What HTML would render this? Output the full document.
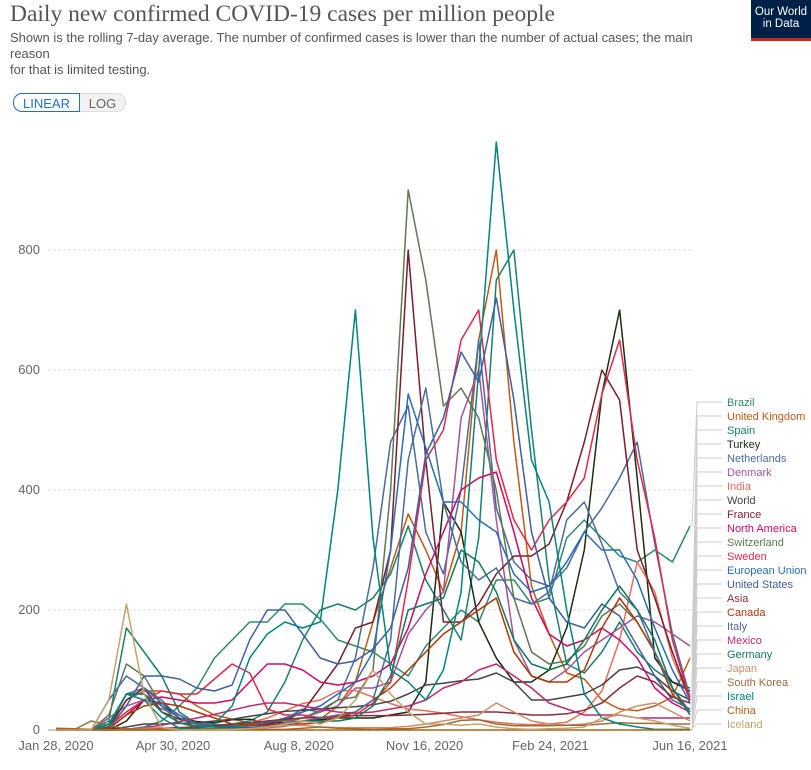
<!DOCTYPE html>
<html><head><meta charset="utf-8">
<style>
body{margin:0;background:#fff;width:811px;height:770px;overflow:hidden;font-family:"Liberation Sans",sans-serif;position:relative}
#title{position:absolute;left:10px;top:1px;font-family:"Liberation Serif",serif;font-size:23.5px;color:#555;white-space:nowrap}
#sub{position:absolute;left:10px;top:30px;font-size:13px;color:#555;line-height:16px;width:760px;white-space:nowrap}
#logo{position:absolute;left:751px;top:0;width:60px;height:41px;background:#002147;border-bottom:3px solid #ce261e;box-sizing:border-box;color:#fff;font-size:11.5px;line-height:12px;text-align:center;padding-top:6px}
.btn{position:absolute;top:93px;height:19px;font-size:13px;line-height:19px;box-sizing:border-box}
</style></head><body>
<div id="title">Daily new confirmed COVID-19 cases per million people</div>
<div id="sub">Shown is the rolling 7-day average. The number of confirmed cases is lower than the number of actual cases; the main<br>reason<br>for that is limited testing.</div>
<div id="logo">Our World<br>in Data</div>
<div class="btn" style="left:13px;width:67px;border:1px solid #1f6fd0;border-radius:9px 0 0 9px;color:#1f6fd0;text-align:center">LINEAR</div>
<div class="btn" style="left:80px;width:46px;border:1px solid #ddd;border-left:none;border-radius:0 9px 9px 0;background:#f2f2f2;color:#666;text-align:center">LOG</div>
<svg id="chart" width="811" height="770" style="position:absolute;left:0;top:0"></svg>
<script>
const yTicks=[0,200,400,600,800];
const xTickLabels=["Jan 28, 2020","Apr 30, 2020","Aug 8, 2020","Nov 16, 2020","Feb 24, 2021","Jun 16, 2021"];
const xTickDays=[0,93,193,293,393,504];
const sampleStep=14;
const seriesNames=["Brazil","United Kingdom","Spain","Turkey","Netherlands","Denmark","India","World","France","North America","Switzerland","Sweden","European Union","United States","Asia","Canada","Italy","Mexico","Germany","Japan","South Korea","Israel","China","Iceland"];
const seriesColors=["#2e8b6a","#c05917","#18806b","#1b2e10","#4c6a9c","#a2559c","#e56e5a","#444","#7a1e2c","#cf0a66","#5f7a4f","#e0294a","#286bbb","#3f5fa0","#883039","#b13507","#4c6a9c","#be2a6e","#0f7a5b","#d28b68","#996d39","#00847e","#b16214","#c4a36d"];
const brazil=[0,0,0,0,1,5,15,40,70,120,150,180,180,210,210,185,150,140,130,110,90,140,170,200,180,250,250,210,220,320,350,320,290,280,300,280,340];
const uk=[0,0,0,1,50,65,65,60,40,25,18,12,9,10,14,18,40,80,180,270,360,300,230,330,650,800,480,240,160,95,85,50,35,32,40,55,120];
const spain=[0,0,0,15,170,130,90,30,10,8,10,15,30,80,150,200,210,200,220,260,340,250,200,150,320,750,800,500,250,110,95,130,180,130,100,80,70];
const turkey=[0,0,0,0,15,50,45,20,14,12,17,18,12,12,15,17,20,20,20,25,30,80,380,330,180,120,80,80,100,170,300,560,700,420,120,80,65];
const netherlands=[0,0,0,10,60,70,50,20,12,10,6,4,6,18,35,30,50,120,270,480,540,330,260,400,650,370,280,250,240,270,330,370,420,480,310,160,55];
const denmark=[0,0,0,20,40,50,35,25,10,8,8,5,6,12,20,30,40,70,70,80,160,200,230,520,600,350,150,90,80,100,130,150,170,190,180,160,140];
const india=[0,0,0,0,0,0,1,2,4,6,8,12,20,32,44,50,65,66,55,44,35,32,28,22,17,13,10,9,10,13,30,65,150,280,230,120,50];
const world=[0,0,0,1,5,10,10,11,12,15,18,23,27,31,33,35,37,39,42,48,60,75,78,82,85,95,80,50,50,55,60,75,100,105,90,65,50];
const france=[0,0,0,5,50,70,30,18,10,6,7,8,10,16,30,70,110,170,180,300,800,450,180,180,210,260,290,290,310,380,480,600,550,300,220,130,50];
const northAmerica=[0,0,0,2,25,50,55,50,45,45,50,80,110,110,100,80,75,80,90,110,170,260,330,400,420,430,330,220,160,140,150,170,150,120,70,45,30];
const switzerland=[0,0,0,25,110,90,40,12,4,2,3,10,15,15,20,33,50,55,100,400,900,750,540,570,520,400,220,130,110,115,140,190,210,180,130,70,30];
const sweden=[0,0,0,6,30,50,65,60,60,85,110,95,35,25,25,20,20,25,45,80,250,450,500,650,700,450,350,300,350,380,420,560,650,450,320,150,50];
const eu=[0,0,0,10,60,60,40,20,10,6,7,8,12,20,30,40,60,80,130,300,560,470,380,380,350,330,260,230,240,280,330,300,300,250,170,100,45];
const us=[0,0,0,2,40,90,90,85,70,65,75,150,200,200,160,120,110,115,135,170,270,460,520,630,580,720,550,330,220,180,170,210,190,140,90,50,35];
const asia=[0,0,0,1,1,2,3,4,5,7,9,12,15,18,20,21,23,24,24,24,25,26,28,30,30,30,28,25,25,27,33,45,70,90,80,55,45];
const canada=[0,0,0,3,25,40,45,40,30,20,10,8,8,10,10,12,20,30,50,70,100,130,160,180,200,220,130,90,80,80,100,170,220,180,130,60,30];
const italy=[0,0,0,50,90,70,45,25,10,5,4,4,4,6,15,20,25,30,50,150,450,570,380,280,250,270,220,210,230,350,380,310,230,200,130,70,30];
const mexico=[0,0,0,0,1,4,8,14,20,26,33,40,45,45,40,35,30,28,30,35,40,50,70,80,100,110,90,70,45,35,25,25,25,20,20,20,20];
const germany=[0,0,0,5,60,60,30,12,7,5,4,4,5,10,15,15,15,20,40,90,200,210,220,300,280,230,150,110,100,110,150,200,240,200,150,70,25];
const japan=[0,0,0,0,1,3,4,1,0,0,1,2,5,7,8,5,4,4,4,4,6,10,15,20,25,45,30,15,10,8,10,15,30,40,45,30,15];
const southKorea=[0,0,15,8,2,1,0,0,1,1,1,1,1,1,3,5,3,2,1,2,2,5,9,16,17,10,7,7,7,8,8,10,12,11,11,10,10];
const israel=[0,0,0,10,60,50,20,3,2,10,40,120,160,180,170,180,400,700,320,100,80,50,100,230,600,980,700,450,380,200,60,20,10,5,1,1,1];
const china=[3,2,1,0,0,0,0,0,0,0,0,0,0,0,0,0,0,0,0,0,0,0,0,0,0,0,0,0,0,0,0,0,0,0,0,0,0];
const iceland=[0,0,0,50,210,60,4,0,0,0,1,2,5,10,15,10,20,50,100,60,30,10,10,8,10,5,2,1,2,3,5,20,25,20,15,8,3];
const seriesValues=[brazil,uk,spain,turkey,netherlands,denmark,india,world,france,northAmerica,switzerland,sweden,eu,us,asia,canada,italy,mexico,germany,japan,southKorea,israel,china,iceland];

const NS="http://www.w3.org/2000/svg";
const svg=document.getElementById('chart');
const X0=56,X1=690,Y0=730;
const xScale=d=>X0+d*(X1-X0)/504;
const yScale=v=>Y0-v*0.6;
function mk(t,a){const e=document.createElementNS(NS,t);for(const k in a)e.setAttribute(k,a[k]);svg.appendChild(e);return e;}
yTicks.forEach(v=>{
  if(v>0){const g=mk('line',{x1:48,x2:692,y1:yScale(v),y2:yScale(v),stroke:'#ddd','stroke-dasharray':'3,2'});
  
  }
  const t=mk('text',{x:40,y:yScale(v)+4,'text-anchor':'end','font-size':13,fill:'#666'});t.textContent=v;
  
  
});
const ax=mk('line',{x1:48,x2:692,y1:Y0,y2:Y0,stroke:'#999'});


xTickLabels.forEach((l,i)=>{
  const t=mk('text',{x:xScale(xTickDays[i]),y:750,'text-anchor':'middle','font-size':13,fill:'#666'});t.textContent=l;
  
  
});
seriesValues.forEach((vals,s)=>{
  const d=vals.map((v,i)=>(i?'L':'M')+xScale(i*sampleStep).toFixed(1)+','+yScale(v).toFixed(1)).join('');
  const p=mk('path',{d:d,fill:'none',stroke:seriesColors[s],'stroke-width':1.5,'stroke-linejoin':'round'});
  
  
  const ly=402+s*14;
  const ye=yScale(vals[vals.length-1]);
  const c=mk('polyline',{points:`${X1+2},${ye} 697,${ly} 722,${ly}`,fill:'none',stroke:'#ccc','stroke-width':1});
  
  
  const t=mk('text',{x:727,y:ly+4,'font-size':11,fill:seriesColors[s]});t.textContent=seriesNames[s];
  
  
});
</script>
</body></html>
